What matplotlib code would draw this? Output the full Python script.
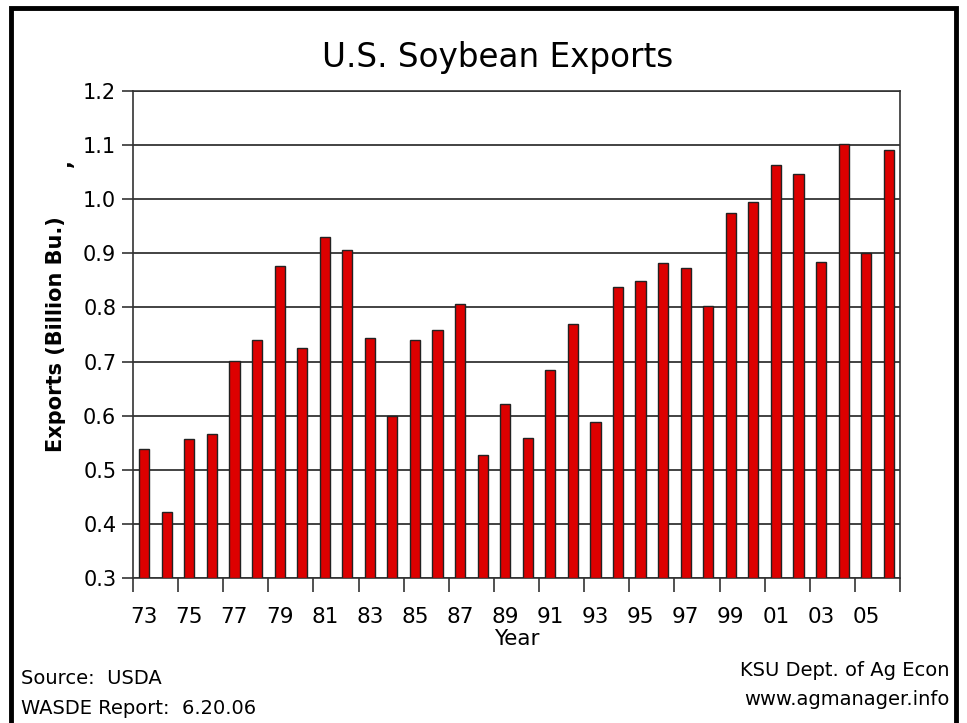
import numpy as np
import matplotlib
matplotlib.use("Agg")
import matplotlib.pyplot as plt
from matplotlib.patches import Rectangle

years = ['73', '74', '75', '76', '77', '78', '79', '80', '81', '82', '83', '84',
         '85', '86', '87', '88', '89', '90', '91', '92', '93', '94', '95', '96',
         '97', '98', '99', '00', '01', '02', '03', '04', '05', '06']
exports = [0.538, 0.422, 0.557, 0.566, 0.701, 0.740, 0.877, 0.725, 0.930, 0.906,
           0.744, 0.599, 0.740, 0.758, 0.806, 0.527, 0.622, 0.559, 0.684, 0.769,
           0.588, 0.838, 0.849, 0.882, 0.873, 0.803, 0.975, 0.995, 1.063, 1.047,
           0.884, 1.102, 0.900, 1.091]
yticks = [0.3, 0.4, 0.5, 0.6, 0.7, 0.8, 0.9, 1.0, 1.1, 1.2]

plt.rcParams['font.family'] = 'DejaVu Sans'

fig = plt.figure(figsize=(9.67, 7.23), dpi=100)
ax = fig.add_axes([0.1375, 0.2006, 0.7932, 0.6734])

x = np.arange(len(years))
ax.bar(x, np.array(exports) - 0.3, bottom=0.3, width=0.45, color='#DD0000',
       edgecolor='#222222', linewidth=1.0, zorder=3)

ax.set_xlim(-0.5, len(years) - 0.5)
ax.set_ylim(0.3, 1.2)
ax.set_yticks(yticks)
ax.set_yticklabels(['%.1f' % v for v in yticks], fontsize=15)
for v in yticks:
    ax.axhline(v, color='#222222', lw=1.2, zorder=1)

# ticks at category boundaries every two years, labels under odd years
ax.set_xticks(np.arange(-0.5, len(years), 2))
ax.set_xticklabels([])
ax.set_xticks(x[::2], minor=True)
ax.set_xticklabels(years[::2], minor=True, fontsize=15.5)
ax.tick_params(axis='x', which='minor', length=0, pad=21)
ax.tick_params(axis='x', which='major', length=10, width=1.2, color='#333333')
ax.tick_params(axis='y', length=8, width=1.2, color='#333333', pad=4)

for s in ax.spines.values():
    s.set_color('#333333')
    s.set_linewidth(1.2)

ax.set_xlabel('Year', fontsize=15.5, labelpad=1)
ax.set_ylabel('Exports (Billion Bu.)', fontsize=15, fontweight='bold', labelpad=12)
fig.text(0.067, 0.775, ',', fontsize=15, fontweight='bold', rotation=90,
         ha='center', va='center')

fig.text(0.515, 0.92, 'U.S. Soybean Exports', fontsize=23.5, ha='center', va='center')

fig.text(0.022, 0.062, 'Source:  USDA', fontsize=14, ha='left', va='center')
fig.text(0.022, 0.020, 'WASDE Report:  6.20.06', fontsize=14, ha='left', va='center')
fig.text(0.982, 0.073, 'KSU Dept. of Ag Econ', fontsize=14, ha='right', va='center')
fig.text(0.982, 0.032, 'www.agmanager.info', fontsize=14, ha='right', va='center')

fig.patches.append(Rectangle((0.011, -0.05), 0.978, 1.039, transform=fig.transFigure,
                             fill=False, edgecolor='black', linewidth=3.5, clip_on=False))

fig.savefig('out.png', dpi=100)
